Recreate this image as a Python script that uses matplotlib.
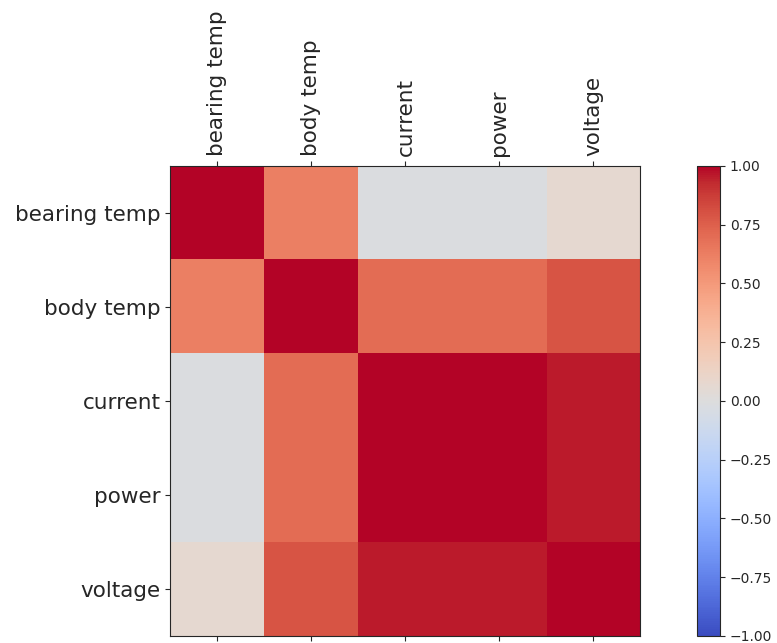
import numpy as np
import matplotlib
matplotlib.use('Agg')
import matplotlib.pyplot as plt

labels = ['bearing temp', 'body temp', 'current', 'power', 'voltage']

# correlation matrix
corr = np.array([
    [1.00, 0.62, -0.02, -0.02, 0.07],
    [0.62, 1.00, 0.70, 0.70, 0.79],
    [-0.02, 0.70, 1.00, 1.00, 0.96],
    [-0.02, 0.70, 1.00, 1.00, 0.96],
    [0.07, 0.79, 0.96, 0.96, 1.00],
])

plt.rcParams['text.color'] = '.15'
plt.rcParams['axes.edgecolor'] = '.15'
plt.rcParams['xtick.color'] = '.15'
plt.rcParams['ytick.color'] = '.15'

fig = plt.figure(figsize=(7.77, 6.43), dpi=100)
ax = fig.add_axes([0.2188, 0.0109, 0.606, 0.731])
cax = fig.add_axes([0.897, 0.0109, 0.0296, 0.731])

im = ax.matshow(corr, cmap='coolwarm', vmin=-1, vmax=1)
ax.set_xticks(range(len(labels)))
ax.set_yticks(range(len(labels)))
ax.set_xticklabels(labels, rotation=90, fontsize=15.5)
ax.set_yticklabels(labels, fontsize=15.5)

cb = fig.colorbar(im, cax=cax)
cb.set_ticks(np.arange(-1, 1.01, 0.25))
cb.ax.tick_params(labelsize=10)

fig.savefig('out.png', dpi=100)
